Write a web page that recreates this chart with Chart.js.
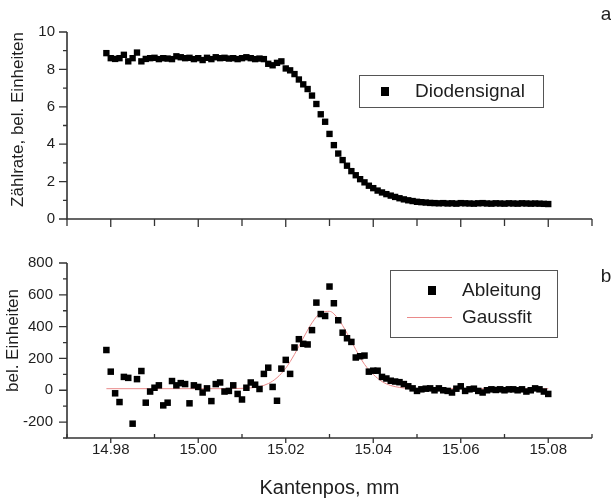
<!DOCTYPE html>
<html>
<head>
<meta charset="utf-8">
<script src="https://cdn.jsdelivr.net/npm/chart.js@4.4.1/dist/chart.umd.min.js"></script>
<style>
  html, body { margin: 0; padding: 0; background: #fff; }
  #wrap { position: relative; width: 611px; height: 503px; }
  #top { position: absolute; left: 0; top: 0; }
  #bot { position: absolute; left: 0; top: 240px; }
</style>
</head>
<body>
<div id="wrap">
  <canvas id="top" width="611" height="240"></canvas>
  <canvas id="bot" width="611" height="263"></canvas>
</div>
<script>
// sample grid of the scan (mm)
var xStart = 14.979;
var xStep = 0.001;

// panel a: diode signal, one value per step
var signal = [
  8.87, 8.6, 8.56, 8.6, 8.78, 8.43, 8.6, 8.9, 8.43, 8.56,
  8.6, 8.62, 8.55, 8.6, 8.58, 8.55, 8.7, 8.65, 8.6, 8.62,
  8.55, 8.6, 8.5, 8.62, 8.55, 8.65, 8.6, 8.62, 8.58, 8.6,
  8.55, 8.6, 8.65, 8.6, 8.55, 8.58, 8.55, 8.3, 8.22, 8.35,
  8.43, 8.05, 7.95, 7.75, 7.46, 7.2, 6.95, 6.6, 6.15, 5.6,
  5.2, 4.55, 3.95, 3.5, 3.15, 2.85, 2.56, 2.34, 2.13, 1.96,
  1.78, 1.65, 1.52, 1.42, 1.33, 1.25, 1.18, 1.11, 1.05, 1.0,
  0.96, 0.92, 0.9, 0.88, 0.86, 0.85, 0.84, 0.85, 0.83, 0.84,
  0.82, 0.85, 0.84, 0.83, 0.82, 0.84, 0.85, 0.83, 0.82, 0.84,
  0.83, 0.82, 0.84, 0.83, 0.82, 0.84, 0.83, 0.82, 0.83, 0.82,
  0.81, 0.8
];

// panel b: derivative
var deriv = [
  253, 117, -19, -74, 84, 78, -210, 70, 121, -78,
  -8, 16, 31, -95, -78, 58, 31, 45, 39, -82,
  31, 21, -14, 12, -68, 39, 49, -8, -4, 31,
  -23, -58, 16, 49, 35, 8, 103, 142, 21, -66,
  136, 191, 103, 269, 321, 292, 288, 378, 551, 479,
  467, 652, 547, 440, 362, 327, 304, 206, 214, 218,
  117, 123, 123, 84, 74, 60, 55, 51, 39, 25,
  12, -4, 6, 10, 12, 0, 12, 0, -4, -14,
  10, 25, -4, 6, 10, -4, -14, 0, 6, 2,
  6, 0, 6, 6, 0, 6, -8, 0, 12, 6,
  -8, -23
];

// gauss fit curve
var gaussX = [14.979, 14.99, 15.0, 15.006, 15.01, 15.012, 15.014, 15.016, 15.018, 15.02,
  15.022, 15.024, 15.026, 15.028, 15.03, 15.032, 15.034, 15.036, 15.038, 15.04,
  15.042, 15.044, 15.046, 15.048, 15.05, 15.054, 15.06, 15.07, 15.08];
var gaussY = [10, 10, 10, 10, 12, 15, 23, 42, 79, 139,
  226, 328, 424, 487, 496, 448, 359, 256, 163, 100,
  55, 30, 18, 12, 11, 10, 10, 10, 10];

// ticks
var xMajor = [14.98, 15.00, 15.02, 15.04, 15.06, 15.08];
var xMinor = [14.97, 14.99, 15.01, 15.03, 15.05, 15.07, 15.09];
var topYMajor = [0, 2, 4, 6, 8, 10];
var topYMinor = [1, 3, 5, 7, 9];
var botYMajor = [-200, 0, 200, 400, 600, 800];
var botYMinor = [-300, -100, 100, 300, 500, 700];

var font = "'Liberation Sans', Arial, sans-serif";
var ink = '#1e1e1e';
var axisCol = '#333';

function pts(vals) {
  return vals.map(function (v, i) {
    return { x: +(xStart + i * xStep).toFixed(3), y: v };
  });
}

function gaussPts() {
  return gaussX.map(function (x, i) { return { x: x, y: gaussY[i] }; });
}

// draws axis lines, major/minor ticks and the free texts
function decor(cfg) {
  return {
    id: 'decor',
    afterDraw: function (chart) {
      var ctx = chart.ctx, a = chart.chartArea;
      var xs = chart.scales.x, ys = chart.scales.y;
      ctx.save();
      ctx.strokeStyle = axisCol;
      ctx.lineWidth = 1.6;
      ctx.beginPath();
      ctx.moveTo(a.left, a.top);
      ctx.lineTo(a.left, a.bottom);
      ctx.lineTo(a.right, a.bottom);
      ctx.stroke();

      ctx.lineWidth = 1.3;
      ctx.beginPath();
      cfg.yMajor.forEach(function (v) {
        var p = ys.getPixelForValue(v);
        ctx.moveTo(a.left - 8, p); ctx.lineTo(a.left, p);
      });
      cfg.yMinor.forEach(function (v) {
        var p = ys.getPixelForValue(v);
        ctx.moveTo(a.left - 4, p); ctx.lineTo(a.left, p);
      });
      xMajor.forEach(function (v) {
        var p = xs.getPixelForValue(v);
        ctx.moveTo(p, a.bottom); ctx.lineTo(p, a.bottom + cfg.xMajorLen);
      });
      xMinor.forEach(function (v) {
        var p = xs.getPixelForValue(v);
        ctx.moveTo(p, a.bottom); ctx.lineTo(p, a.bottom + cfg.xMinorLen);
      });
      ctx.stroke();

      // y axis title
      ctx.fillStyle = ink;
      ctx.font = '17px ' + font;
      ctx.textAlign = 'center';
      ctx.textBaseline = 'alphabetic';
      ctx.save();
      ctx.translate(cfg.yTitleX, (a.top + a.bottom) / 2 + cfg.yTitleShift);
      ctx.rotate(-Math.PI / 2);
      ctx.fillText(cfg.yTitle, 0, 0);
      ctx.restore();

      // panel letter
      ctx.font = '19px ' + font;
      ctx.textBaseline = 'middle';
      ctx.fillText(cfg.letter, 606, cfg.letterY);

      // legend
      var L = cfg.legend;
      ctx.strokeStyle = '#555';
      ctx.lineWidth = 1;
      ctx.strokeRect(L.box[0] + 0.5, L.box[1] + 0.5, L.box[2], L.box[3]);
      ctx.font = '19px ' + font;
      ctx.textAlign = 'left';
      L.items.forEach(function (it) {
        if (it.kind === 'rect') {
          ctx.fillStyle = '#000';
          ctx.fillRect(it.mx - 4, it.y - 4, 8, 9);
        } else {
          ctx.strokeStyle = '#ea8a8a';
          ctx.lineWidth = 1;
          ctx.beginPath();
          ctx.moveTo(it.mx - 25, it.y + 0.5);
          ctx.lineTo(it.mx + 20, it.y + 0.5);
          ctx.stroke();
        }
        ctx.fillStyle = ink;
        ctx.fillText(it.text, it.tx, it.y + 1);
      });

      if (cfg.xTitle) {
        ctx.font = '20px ' + font;
        ctx.textAlign = 'center';
        ctx.fillText(cfg.xTitle, (a.left + a.right) / 2, cfg.xTitleY);
      }
      ctx.restore();
    }
  };
}

function xScale(showLabels, height) {
  return {
    type: 'linear',
    min: 14.97,
    max: 15.09,
    grid: { display: false, drawTicks: false },
    border: { display: false },
    afterBuildTicks: function (s) { s.ticks = xMajor.map(function (v) { return { value: v }; }); },
    afterFit: function (s) { s.height = height; },
    ticks: {
      display: showLabels,
      autoSkip: false,
      maxRotation: 0,
      padding: 3,
      color: ink,
      font: { family: font, size: 15 },
      callback: function (v) { return v.toFixed(2); }
    }
  };
}

function yScale(min, max, major, pad) {
  return {
    type: 'linear',
    min: min,
    max: max,
    grid: { display: false, drawTicks: false },
    border: { display: false },
    afterBuildTicks: function (s) { s.ticks = major.map(function (v) { return { value: v }; }); },
    afterFit: function (s) { s.width = 67; },
    ticks: {
      padding: pad,
      color: ink,
      font: { family: font, size: 15 },
      callback: function (v) { return String(v); }
    }
  };
}

var common = {
  responsive: false,
  animation: false,
  plugins: { legend: { display: false }, tooltip: { enabled: false } }
};

new Chart(document.getElementById('top'), {
  type: 'scatter',
  data: {
    datasets: [{
      label: 'Diodensignal',
      data: pts(signal),
      pointStyle: 'rect',
      pointRadius: 4.5,
      backgroundColor: '#000',
      borderWidth: 0
    }]
  },
  options: Object.assign({}, common, {
    layout: { padding: { top: 32, left: 0, right: 19, bottom: 0 } },
    scales: { x: xScale(false, 19), y: yScale(0, 10, topYMajor, 12) }
  }),
  plugins: [decor({
    yMajor: topYMajor, yMinor: topYMinor,
    xMajorLen: 8, xMinorLen: 7,
    yTitle: 'Zählrate, bel. Einheiten', yTitleX: 23, yTitleShift: -6,
    letter: 'a', letterY: 15,
    legend: {
      box: [359, 75, 184, 32],
      items: [{ kind: 'rect', mx: 385, tx: 415, y: 91, text: 'Diodensignal' }]
    }
  })]
});

new Chart(document.getElementById('bot'), {
  type: 'scatter',
  data: {
    datasets: [{
      label: 'Ableitung',
      data: pts(deriv),
      pointStyle: 'rect',
      pointRadius: 4.6,
      backgroundColor: '#000',
      borderWidth: 0
    }, {
      label: 'Gaussfit',
      data: gaussPts(),
      showLine: true,
      pointRadius: 0,
      borderColor: '#ea8a8a',
      borderWidth: 1,
      cubicInterpolationMode: 'monotone'
    }]
  },
  options: Object.assign({}, common, {
    layout: { padding: { top: 9, left: 0, right: 19, bottom: 0 } },
    scales: { x: xScale(true, 65), y: yScale(-300, 800, botYMajor, 14) }
  }),
  plugins: [decor({
    yMajor: botYMajor, yMinor: botYMinor,
    xMajorLen: 5, xMinorLen: -4,
    yTitle: 'bel. Einheiten', yTitleX: 18, yTitleShift: -10,
    letter: 'b', letterY: 37,
    xTitle: 'Kantenpos, mm', xTitleY: 248,
    legend: {
      box: [390, 30, 167, 67],
      items: [
        { kind: 'rect', mx: 432, tx: 462, y: 50, text: 'Ableitung' },
        { kind: 'line', mx: 432, tx: 462, y: 77, text: 'Gaussfit' }
      ]
    }
  })]
});
</script>
</body>
</html>
